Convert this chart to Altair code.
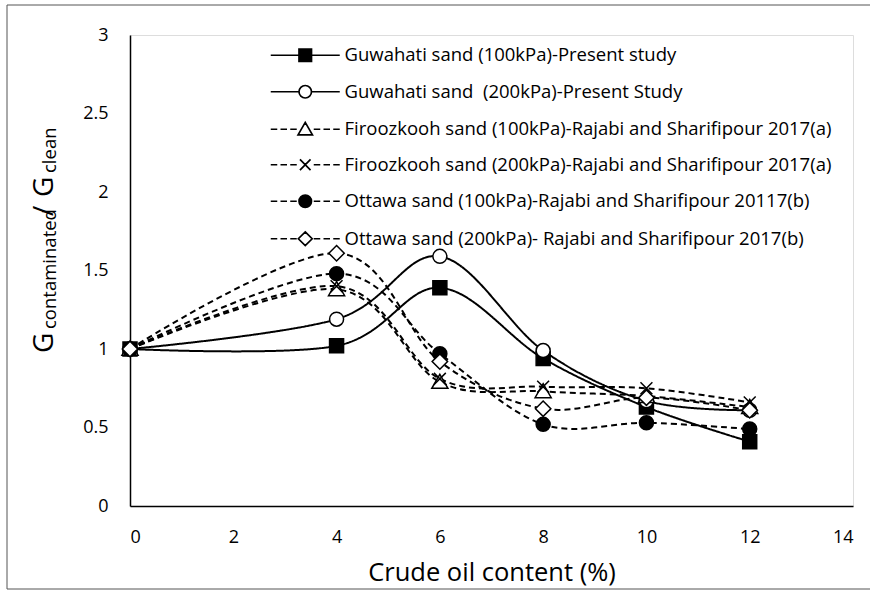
import altair as alt
import pandas as pd

# Crude oil content (%) at which the shear modulus ratio was measured
oil_content = [0, 4, 6, 8, 10, 12]

# G_contaminated / G_clean for each sand and confining pressure
guwahati_100 = [1.00, 1.02, 1.39, 0.94, 0.63, 0.41]
guwahati_200 = [1.00, 1.19, 1.59, 0.99, 0.67, 0.61]
firoozkooh_100 = [1.00, 1.38, 0.79, 0.73, 0.70, 0.63]
firoozkooh_200 = [1.00, 1.40, 0.81, 0.76, 0.75, 0.66]
ottawa_100 = [1.00, 1.48, 0.97, 0.52, 0.53, 0.49]
ottawa_200 = [1.00, 1.61, 0.92, 0.62, 0.69, 0.61]

series_labels = [
    "Guwahati sand (100kPa)-Present study",
    "Guwahati sand\u00a0 (200kPa)-Present Study",
    "Firoozkooh sand (100kPa)-Rajabi and Sharifipour 2017(a)",
    "Firoozkooh sand (200kPa)-Rajabi and Sharifipour 2017(a)",
    "Ottawa sand (100kPa)-Rajabi and Sharifipour 20117(b)",
    "Ottawa sand (200kPa)- Rajabi and Sharifipour 2017(b)",
]
series_values = [guwahati_100, guwahati_200, firoozkooh_100,
                 firoozkooh_200, ottawa_100, ottawa_200]

x_ticks = [0, 2, 4, 6, 8, 10, 12, 14]
y_ticks = [0, 0.5, 1, 1.5, 2, 2.5, 3]

rows = []
for label, values in zip(series_labels, series_values):
    for c, r in zip(oil_content, values):
        rows.append({"series": label, "content": c, "ratio": r})
df = pd.DataFrame(rows)

FONT = "Open Sans"

# ---- marker styling -------------------------------------------------------
# unit outlines for each marker, drawn as custom SVG symbols
marker_shapes = {
    "square": ("M-1,-1L1,-1L1,1L-1,1Z", 1.0),
    "circle": ("M-1,0A1,1 0 1,1 1,0A1,1 0 1,1 -1,0Z", 1.0),
    "triangle": ("M0,-1.1L1.15,0.9L-1.15,0.9Z", 1.1),
    "cross": ("M-0.85,-0.85L0.85,0.85M-0.85,0.85L0.85,-0.85", 0.9),
    "diamond": ("M0,-1.1L1.1,0L0,1.1L-1.1,0Z", 1.05),
}
series_markers = ["square", "circle", "triangle", "cross", "circle", "diamond"]
series_fills = ["black", "white", "white", "white", "black", "white"]
series_strokes = ["black"] * len(series_labels)
series_solid = [True, True, False, False, False, False]
marker_paths = [marker_shapes[m][0] for m in series_markers]
dash_styles = [[1, 0] if s else [6, 4] for s in series_solid]


def scale_path(path, k):
    """Scale the coordinates of a simple M/L/A path by k (arc flags kept)."""
    tokens, num = [], ""
    for ch in path + " ":
        if ch.isdigit() or ch == "." or (ch == "-" and num == ""):
            num += ch
        else:
            if num:
                tokens.append(num)
                num = ""
            tokens.append(ch)
    res, cmd, argi = [], "", 0
    for t in tokens:
        if t.isalpha():
            cmd, argi = t, 0
            res.append(t)
        elif t in ", ":
            res.append(t)
        else:
            if cmd == "A" and argi % 7 in (2, 3, 4):
                res.append(t)
            else:
                res.append(f"{float(t) * k:.3g}")
            argi += 1
    return "".join(res).strip()


def legend_symbol(marker, solid):
    """Line sample with the marker in its middle, in legend symbol units."""
    path, half = marker_shapes[marker]
    k = 1.25
    m = half * k
    if solid:
        line = f"M-6.9,0L-{m + 0.05:.2f},0M{m + 0.05:.2f},0L6.9,0"
    else:
        segs = [(5.6, 6.9), (3.65, 4.95), (1.7, 3.0)]
        line = "".join(f"M-{b},0L-{a},0M{a},0L{b},0" for a, b in segs)
    return line + scale_path(path, k)


legend_paths = [legend_symbol(m, s) for m, s in zip(series_markers, series_solid)]

# ---- scales and axes ------------------------------------------------------
x_enc = alt.X(
    "content:Q",
    scale=alt.Scale(domain=[0, 14], nice=False, zero=False),
    axis=alt.Axis(values=x_ticks, grid=False, ticks=False, tickSize=0,
                  domainColor="black", domainWidth=1.5,
                  labelFont=FONT, labelFontSize=18, labelColor="black",
                  labelPadding=22, title="Crude oil content (%)",
                  titleFont=FONT, titleFontSize=25.5, titleFontWeight="normal",
                  titleColor="black", titlePadding=14),
)
y_enc = alt.Y(
    "ratio:Q",
    scale=alt.Scale(domain=[0, 3], nice=False),
    axis=alt.Axis(values=y_ticks, format="~g", grid=False, ticks=False,
                  tickSize=0, domainColor="black", domainWidth=1.5,
                  labelFont=FONT, labelFontSize=18, labelColor="black",
                  labelPadding=22, title=None),
)

lines = alt.Chart(df).mark_line(
    interpolate="cardinal", strokeWidth=2, color="black"
).encode(
    x=x_enc,
    y=y_enc,
    detail="series:N",
    strokeDash=alt.StrokeDash(
        "series:N", scale=alt.Scale(domain=series_labels, range=dash_styles),
        legend=None),
    order="content:Q",
)

markers = alt.Chart(df).mark_point(
    size=196, filled=True, strokeWidth=1.5, opacity=1
).encode(
    x=x_enc,
    y=y_enc,
    shape=alt.Shape("series:N",
                    scale=alt.Scale(domain=series_labels, range=marker_paths),
                    legend=None),
    fill=alt.Fill("series:N",
                  scale=alt.Scale(domain=series_labels, range=series_fills),
                  legend=None),
    stroke=alt.value("black"),
)

legend_props = dict(
    title=None, orient="none", legendX=166, legendY=11, padding=0,
    symbolSize=100, symbolStrokeWidth=1.7, symbolOpacity=1,
    labelFont=FONT, labelFontSize=18.5, labelColor="black",
    labelOffset=30, labelLimit=700, rowPadding=16.5,
)

key = alt.Chart(df).mark_point(size=100, filled=True, opacity=0).encode(
    x=x_enc,
    y=y_enc,
    shape=alt.Shape("series:N",
                    scale=alt.Scale(domain=series_labels, range=legend_paths),
                    legend=alt.Legend(**legend_props)),
    fill=alt.Fill("series:N",
                  scale=alt.Scale(domain=series_labels, range=series_fills),
                  legend=alt.Legend(**legend_props)),
    stroke=alt.Stroke("series:N",
                      scale=alt.Scale(domain=series_labels, range=series_strokes),
                      legend=alt.Legend(**legend_props)),
)

# ---- y-axis title with subscripts: G_contaminated / G_clean --------------
one = alt.Data(values=[{"k": 0}])


def title_piece(text, size, bx, sy):
    return alt.Chart(one).mark_text(
        text=text, angle=270, align="left", baseline="alphabetic",
        font=FONT, fontSize=size, color="black",
    ).encode(x=alt.value(bx), y=alt.value(sy))


y_title = [
    title_piece("G", 28, -77, 318),
    title_piece("contaminated", 18.5, -74, 294),
    title_piece("/", 28, -77, 181),
    title_piece("G", 28, -77, 162),
    title_piece("clean", 18.5, -74, 138),
]

frame = alt.Chart(one).mark_rect(
    filled=False, stroke="#555", strokeWidth=1
).encode(x=alt.value(-123), x2=alt.value(780), y=alt.value(-30), y2=alt.value(554))

chart = alt.layer(
    frame, lines, markers, key, *y_title
).resolve_scale(
    shape="independent", fill="independent", stroke="independent"
).resolve_legend(
    shape="independent", fill="independent", stroke="independent"
).properties(
    width=723, height=471,
    padding={"left": 130, "top": 35, "right": 17, "bottom": 86},
    autosize=alt.AutoSizeParams(type="none"),
    background="white",
).configure_view(
    stroke="black", strokeWidth=1.5
).configure(font=FONT)

chart.save("out.html", embed_options={"renderer": "svg", "actions": False})
